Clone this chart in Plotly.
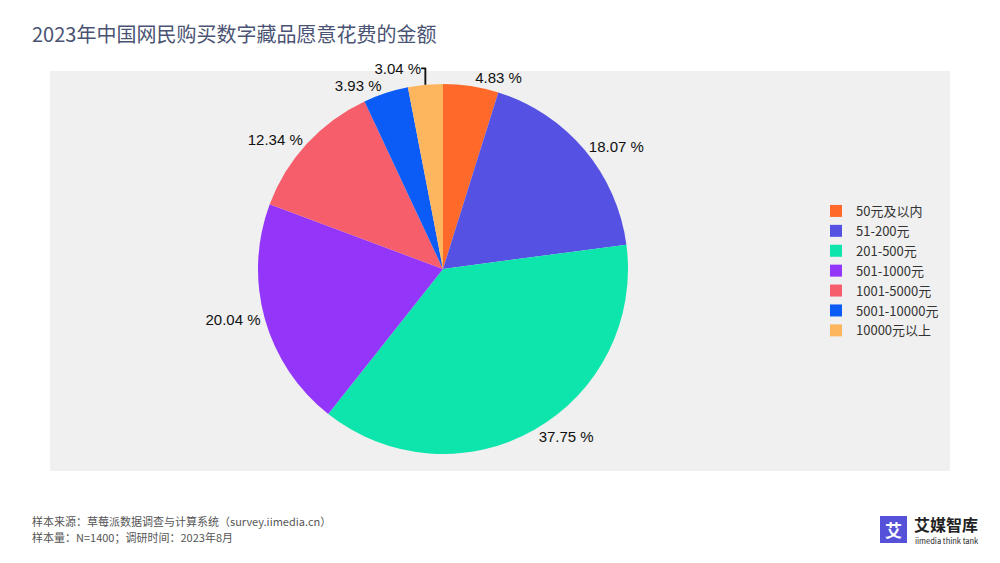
import plotly.graph_objects as go

title_text = "2023年中国网民购买数字藏品愿意花费的金额"
categories = ["50元及以内", "51-200元", "201-500元", "501-1000元", "1001-5000元", "5001-10000元", "10000元以上"]
values = [4.83, 18.07, 37.75, 20.04, 12.34, 3.93, 3.04]
colors = ["#FF6A2B", "#5551E3", "#0DE5AC", "#9336FA", "#F65E6C", "#0B5CF7", "#FDB55E"]
source_lines = ["样本来源：草莓派数据调查与计算系统（survey.iimedia.cn）", "样本量：N=1400；调研时间：2023年8月"]

FONT = "Noto Sans CJK SC, Liberation Sans, sans-serif"

# page offset of the figure inside the browser window
OX, OY = 8, 7
# plot area: x 50..1000, y 70..470 (pixels in figure)
L, R, T, B = 42, 0, 63, 100
PW = 1000 - L - R
PH = 563 - T - B


def px_x(x):
    return (x - OX - L) / PW


def px_y(y):
    return (563 - B - (y - OY)) / PH


cx, cy, rad = 443, 268, 185

fig = go.Figure(go.Pie(
    labels=categories,
    values=values,
    marker=dict(colors=colors, line=dict(width=0)),
    sort=False,
    direction="clockwise",
    rotation=0,
    textposition="outside",
    texttemplate="%{value:.2f} %",
    textfont=dict(size=15, color="#111111", family="Liberation Sans, Arial, sans-serif"),
    hoverinfo="label+value",
    automargin=False,
    domain=dict(x=[px_x(cx - rad), px_x(cx + rad)], y=[px_y(cy + rad), px_y(cy - rad)]),
    showlegend=True,
))

annotations = [
    dict(text=title_text, x=px_x(30), y=px_y(33), xanchor="left", yanchor="middle",
         font=dict(size=20, color="#4A5373", family=FONT)),
    dict(text=source_lines[0], x=px_x(30), y=px_y(520), xanchor="left", yanchor="middle",
         font=dict(size=11, color="#555555", family=FONT)),
    dict(text=source_lines[1], x=px_x(30), y=px_y(536), xanchor="left", yanchor="middle",
         font=dict(size=11, color="#555555", family=FONT)),
    dict(text="<b>艾</b>", x=px_x(893.5), y=px_y(528.5), xanchor="center", yanchor="middle",
         font=dict(size=17, color="white", family=FONT)),
    dict(text="<b>艾媒智库</b>", x=px_x(912), y=px_y(523), xanchor="left", yanchor="middle",
         font=dict(size=16, color="#222222", family=FONT)),
    dict(text="iimedia think tank", x=px_x(913), y=px_y(539), xanchor="left", yanchor="middle",
         font=dict(size=7.5, color="#222222", family=FONT)),
]
for a in annotations:
    a.update(xref="paper", yref="paper", showarrow=False)

fig.update_layout(
    width=1000, height=563,
    paper_bgcolor="white",
    margin=dict(l=L, r=R, t=T, b=B, autoexpand=False),
    font=dict(family=FONT),
    legend=dict(
        x=px_x(816), y=px_y(270), xanchor="left", yanchor="middle",
        font=dict(size=13, color="#333333", family=FONT),
        bgcolor="rgba(0,0,0,0)",
        itemwidth=30,
    ),
    shapes=[dict(type="rect", xref="paper", yref="paper", x0=px_x(50), x1=px_x(950),
                 y0=px_y(470), y1=px_y(70),
                 fillcolor="#F0F0F0", line=dict(width=0), layer="below"),
            dict(type="rect", xref="paper", yref="paper",
                 x0=px_x(880), x1=px_x(907), y0=px_y(542), y1=px_y(515),
                 fillcolor="#5552D9", line=dict(width=0))],
    annotations=annotations,
)

fig.write_html("out.html")
